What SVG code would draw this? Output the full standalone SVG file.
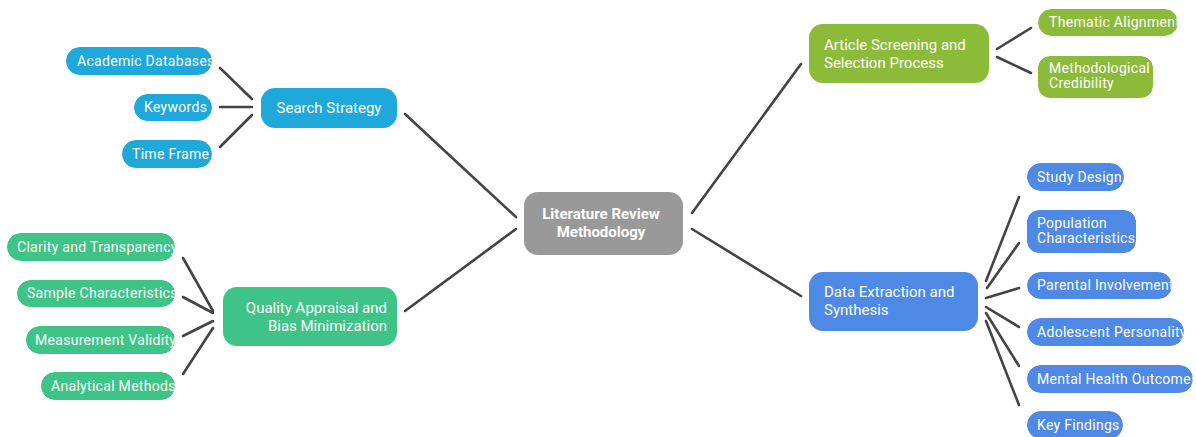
<svg xmlns="http://www.w3.org/2000/svg" width="1196" height="437" viewBox="0 0 1196 437">
<style>
  text { font-family: Roboto, "Liberation Sans", sans-serif; fill: #ffffff; }
  .main { font-size: 15px; }
  .leaf { font-size: 14px; letter-spacing: 0.3px; }
  .center { font-size: 15px; font-weight: bold; }
  .conn line { stroke: #444444; stroke-width: 2.6; stroke-linecap: round; }
  .blue1 { fill: #1fa8da; }
  .green1 { fill: #3ec486; }
  .olive { fill: #8cbb3a; }
  .blue2 { fill: #4e89e5; }
  .gray { fill: #999999; }
</style>
<defs>
  <clipPath id="c-acad"><rect x="66" y="47" width="146" height="28" rx="14"/></clipPath>
  <clipPath id="c-key"><rect x="134" y="94" width="78" height="27" rx="13.5"/></clipPath>
  <clipPath id="c-time"><rect x="122" y="140" width="90" height="28" rx="14"/></clipPath>
  <clipPath id="c-clar"><rect x="7" y="233" width="168" height="28" rx="14"/></clipPath>
  <clipPath id="c-samp"><rect x="17" y="280" width="158" height="27" rx="13.5"/></clipPath>
  <clipPath id="c-meas"><rect x="26" y="326" width="149" height="28" rx="14"/></clipPath>
  <clipPath id="c-anal"><rect x="41" y="372" width="134" height="28" rx="14"/></clipPath>
  <clipPath id="c-them"><rect x="1038" y="9" width="140" height="27" rx="13.5"/></clipPath>
  <clipPath id="c-meth"><rect x="1038" y="56" width="115" height="42" rx="12"/></clipPath>
  <clipPath id="c-stud"><rect x="1027" y="163" width="97" height="28" rx="14"/></clipPath>
  <clipPath id="c-popu"><rect x="1027" y="210" width="109" height="43" rx="12"/></clipPath>
  <clipPath id="c-pare"><rect x="1027" y="272" width="145" height="27" rx="13.5"/></clipPath>
  <clipPath id="c-adol"><rect x="1027" y="318" width="157" height="28" rx="14"/></clipPath>
  <clipPath id="c-ment"><rect x="1027" y="365" width="166" height="28" rx="14"/></clipPath>
  <clipPath id="c-keyf"><rect x="1027" y="411" width="96" height="28" rx="14"/></clipPath>
</defs>

<g id="connectors" class="conn">
  <line x1="405" y1="114" x2="516" y2="217"/>
  <line x1="405" y1="311" x2="516" y2="229"/>
  <line x1="692" y1="213" x2="801" y2="64"/>
  <line x1="692" y1="229" x2="801" y2="296"/>
  <line x1="220" y1="68" x2="252" y2="99"/>
  <line x1="220" y1="107" x2="252" y2="107"/>
  <line x1="220" y1="147" x2="252" y2="115"/>
  <line x1="183" y1="258" x2="213" y2="311"/>
  <line x1="183" y1="297" x2="213" y2="313"/>
  <line x1="183" y1="336" x2="213" y2="321"/>
  <line x1="183" y1="374" x2="213" y2="328"/>
  <line x1="997" y1="49" x2="1031" y2="28"/>
  <line x1="997" y1="57" x2="1031" y2="73"/>
  <line x1="986" y1="281" x2="1019" y2="197"/>
  <line x1="987" y1="288" x2="1019" y2="243"/>
  <line x1="986" y1="298" x2="1019" y2="288"/>
  <line x1="986" y1="307" x2="1019" y2="327"/>
  <line x1="986" y1="313" x2="1019" y2="366"/>
  <line x1="986" y1="321" x2="1019" y2="405"/>
</g>

<g id="center">
  <rect class="gray" x="524" y="192" width="159" height="63" rx="14"/>
  <text class="center" x="601" y="219" text-anchor="middle">Literature Review</text>
  <text class="center" x="601" y="237" text-anchor="middle">Methodology</text>
</g>

<g id="search-strategy">
  <rect class="blue1" x="261" y="88" width="136" height="40" rx="14"/>
  <text class="main" x="329" y="113" text-anchor="middle">Search Strategy</text>
</g>
<g id="academic-databases" clip-path="url(#c-acad)">
  <rect class="blue1" x="66" y="47" width="146" height="28" rx="14"/>
  <text class="leaf" x="77" y="66">Academic Databases</text>
</g>
<g id="keywords" clip-path="url(#c-key)">
  <rect class="blue1" x="134" y="94" width="78" height="27" rx="13.5"/>
  <text class="leaf" x="144" y="112">Keywords</text>
</g>
<g id="time-frame" clip-path="url(#c-time)">
  <rect class="blue1" x="122" y="140" width="90" height="28" rx="14"/>
  <text class="leaf" x="132" y="159">Time Frame</text>
</g>

<g id="quality-appraisal">
  <rect class="green1" x="223" y="287" width="174" height="59" rx="14"/>
  <text class="main" x="387" y="313" text-anchor="end">Quality Appraisal and</text>
  <text class="main" x="387" y="331" text-anchor="end">Bias Minimization</text>
</g>
<g id="clarity" clip-path="url(#c-clar)">
  <rect class="green1" x="7" y="233" width="168" height="28" rx="14"/>
  <text class="leaf" x="17" y="252">Clarity and Transparency</text>
</g>
<g id="sample" clip-path="url(#c-samp)">
  <rect class="green1" x="17" y="280" width="158" height="27" rx="13.5"/>
  <text class="leaf" x="27" y="298">Sample Characteristics</text>
</g>
<g id="measurement" clip-path="url(#c-meas)">
  <rect class="green1" x="26" y="326" width="149" height="28" rx="14"/>
  <text class="leaf" x="35" y="345">Measurement Validity</text>
</g>
<g id="analytical" clip-path="url(#c-anal)">
  <rect class="green1" x="41" y="372" width="134" height="28" rx="14"/>
  <text class="leaf" x="51" y="391">Analytical Methods</text>
</g>

<g id="article-screening">
  <rect class="olive" x="809" y="24" width="180" height="59" rx="14"/>
  <text class="main" x="824" y="50">Article Screening and</text>
  <text class="main" x="824" y="68">Selection Process</text>
</g>
<g id="thematic" clip-path="url(#c-them)">
  <rect class="olive" x="1038" y="9" width="140" height="27" rx="13.5"/>
  <text class="leaf" x="1049" y="27">Thematic Alignment</text>
</g>
<g id="methodological" clip-path="url(#c-meth)">
  <rect class="olive" x="1038" y="56" width="115" height="42" rx="12"/>
  <text class="leaf" x="1049" y="73">Methodological</text>
  <text class="leaf" x="1049" y="88">Credibility</text>
</g>

<g id="data-extraction">
  <rect class="blue2" x="809" y="272" width="169" height="59" rx="14"/>
  <text class="main" x="824" y="297">Data Extraction and</text>
  <text class="main" x="824" y="315">Synthesis</text>
</g>
<g id="study-design" clip-path="url(#c-stud)">
  <rect class="blue2" x="1027" y="163" width="97" height="28" rx="14"/>
  <text class="leaf" x="1037" y="182">Study Design</text>
</g>
<g id="population" clip-path="url(#c-popu)">
  <rect class="blue2" x="1027" y="210" width="109" height="43" rx="12"/>
  <text class="leaf" x="1037" y="228">Population</text>
  <text class="leaf" x="1037" y="243">Characteristics</text>
</g>
<g id="parental" clip-path="url(#c-pare)">
  <rect class="blue2" x="1027" y="272" width="145" height="27" rx="13.5"/>
  <text class="leaf" x="1037" y="290">Parental Involvement</text>
</g>
<g id="adolescent" clip-path="url(#c-adol)">
  <rect class="blue2" x="1027" y="318" width="157" height="28" rx="14"/>
  <text class="leaf" x="1037" y="337">Adolescent Personality</text>
</g>
<g id="mental-health" clip-path="url(#c-ment)">
  <rect class="blue2" x="1027" y="365" width="166" height="28" rx="14"/>
  <text class="leaf" x="1037" y="384">Mental Health Outcomes</text>
</g>
<g id="key-findings" clip-path="url(#c-keyf)">
  <rect class="blue2" x="1027" y="411" width="96" height="28" rx="14"/>
  <text class="leaf" x="1037" y="430">Key Findings</text>
</g>
</svg>
